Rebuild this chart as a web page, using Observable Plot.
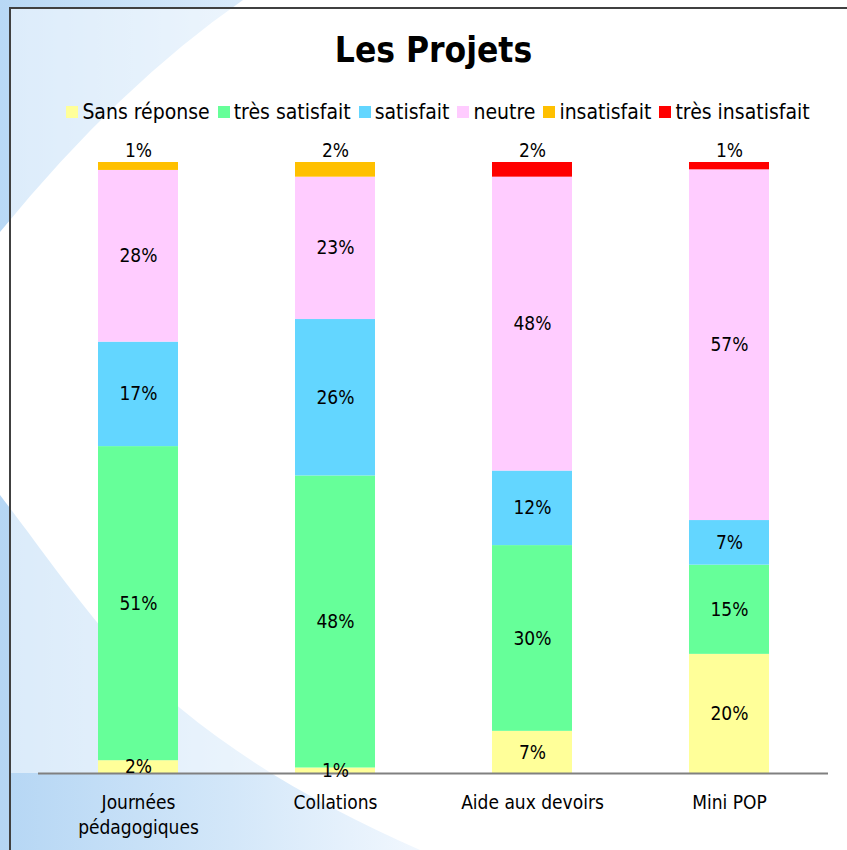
<!DOCTYPE html>
<html>
<head>
<meta charset="utf-8">
<script src="https://cdn.jsdelivr.net/npm/d3@7"></script>
<script src="https://cdn.jsdelivr.net/npm/@observablehq/plot@0.6"></script>
<style>
  html, body { margin: 0; padding: 0; background: #fff; }
  #page { position: relative; width: 847px; height: 850px; overflow: hidden;
          font-family: "Liberation Sans Narrow", "DejaVu Sans Condensed", "Noto Sans", sans-serif; }
  #bg { position: absolute; left: 0; top: 0; }
  #frame { position: absolute; left: 9px; top: 7px; width: 900px; height: 900px;
           border-left: 2px solid #404040; border-top: 2px solid #404040; }
  #title { position: absolute; left: 0; width: 867px; top: 29px; text-align: center;
           font-size: 35px; font-weight: bold; color: #000; line-height: 42px; }
  #legend { position: absolute; left: 0; width: 876px; top: 99px; display: flex;
            justify-content: center; align-items: center; font-size: 21px; color: #000; line-height: 26px; }
  #legend .item { display: flex; align-items: center; margin: 0 4px; }
  #legend .sw { width: 12px; height: 12px; margin-right: 4px; }
  #chart { position: absolute; left: 0; top: 0; }
</style>
</head>
<body>
<div id="page">
  <svg id="bg" width="847" height="850">
    <defs>
      <linearGradient id="g1" x1="0" x2="1" y1="0" y2="0">
        <stop offset="0" stop-color="#b8d8f5"/>
        <stop offset="1" stop-color="#d9eafa"/>
      </linearGradient>
      <linearGradient id="g2" x1="0" x2="1" y1="0" y2="0">
        <stop offset="0" stop-color="#b5d6f4"/>
        <stop offset="0.55" stop-color="#d3e7f9"/>
        <stop offset="1" stop-color="#f1f7fe"/>
      </linearGradient>
    </defs>
    <rect width="847" height="850" fill="#fff"/>
    <path d="M0,0 H243 Q120,85 0,232 Z" fill="url(#g1)"/>
    <path d="M0,495 C50,560 110,650 180,708 S330,810 420,850 L0,850 Z" fill="url(#g2)"/>
    <rect x="11" y="9" width="836" height="764" fill="#fff" opacity="0.5"/>
  </svg>
  <div id="frame"></div>
  <div id="title">Les Projets</div>
  <div id="legend"></div>
  <div id="chart"></div>
</div>
<script>
// ---- data ----
const categories = ["Journées pédagogiques", "Collations", "Aide aux devoirs", "Mini POP"];
const tickLabels = ["Journées\npédagogiques", "Collations", "Aide aux devoirs", "Mini POP"];
const series = ["Sans réponse", "très satisfait", "satisfait", "neutre", "insatisfait", "très insatisfait"];
const colors = ["#ffff99", "#66ff99", "#63d6ff", "#ffccff", "#ffc000", "#ff0000"];
const topSeries = ["insatisfait", "très insatisfait"];

const sansReponse     = [2.1, 0.9, 6.9, 19.5];
const tresSatisfait   = [51.4, 47.8, 30.4, 14.6];
const satisfait       = [17.1, 25.6, 12.2, 7.3];
const neutre          = [28.1, 23.3, 48.1, 57.4];
const insatisfait     = [1.3, 2.4, 0, 0];
const tresInsatisfait = [0, 0, 2.4, 1.2];

const seriesValues = [sansReponse, tresSatisfait, satisfait, neutre, insatisfait, tresInsatisfait];

// ---- table ----
const rows = [];
seriesValues.forEach((vals, si) => vals.forEach((v, ci) =>
  rows.push({category: categories[ci], series: series[si], value: v})));
const totals = new Map(categories.map((c, ci) => [c, d3.sum(seriesValues, s => s[ci])]));
const fmt = v => Math.round(v) + "%";

// ---- legend ----
const legend = document.getElementById("legend");
series.forEach((s, i) => {
  const it = document.createElement("div");
  it.className = "item";
  it.innerHTML = `<span class="sw" style="background:${colors[i]}"></span><span>${s}</span>`;
  legend.appendChild(it);
});

// ---- chart ----
const fontFamily = getComputedStyle(document.getElementById("page")).fontFamily;
const hasAxisMark = typeof Plot.axisX === "function";
const marks = [
  Plot.barY(rows, Plot.stackY({x: "category", y: "value", fill: "series", order: series})),
  Plot.ruleY([0], {stroke: "#808080", strokeWidth: 2}),
  Plot.text(rows.filter(d => !topSeries.includes(d.series)),
    Plot.stackY({x: "category", y: "value", z: "series", order: series,
                 text: d => fmt(d.value), fontSize: 19, fill: "#000"})),
  Plot.text(rows.filter(d => topSeries.includes(d.series) && d.value > 0),
    {x: "category", y: d => totals.get(d.category), text: d => fmt(d.value),
     dy: -12, fontSize: 19, fill: "#000"})
];
if (hasAxisMark) {
  marks.push(Plot.axisX({tickSize: 0, tickPadding: 18, fontSize: 19, lineHeight: 1.3,
    fill: "#000", label: null, tickFormat: c => tickLabels[categories.indexOf(c)]}));
}
const chart = Plot.plot({
  width: 847,
  height: 850,
  marginTop: 162,
  marginBottom: 77,
  marginLeft: 38,
  marginRight: 19,
  style: {background: "transparent", fontFamily, fontSize: "19px", color: "#000", overflow: "visible"},
  x: {domain: categories, paddingInner: 0.595, paddingOuter: 0.2975, label: null,
      ...(hasAxisMark ? {axis: null} : {tickSize: 0, tickPadding: 18,
          tickFormat: c => tickLabels[categories.indexOf(c)]})},
  y: {domain: [0, 100], axis: null},
  color: {domain: series, range: colors},
  marks
});
document.getElementById("chart").appendChild(chart);
</script>
</body>
</html>
